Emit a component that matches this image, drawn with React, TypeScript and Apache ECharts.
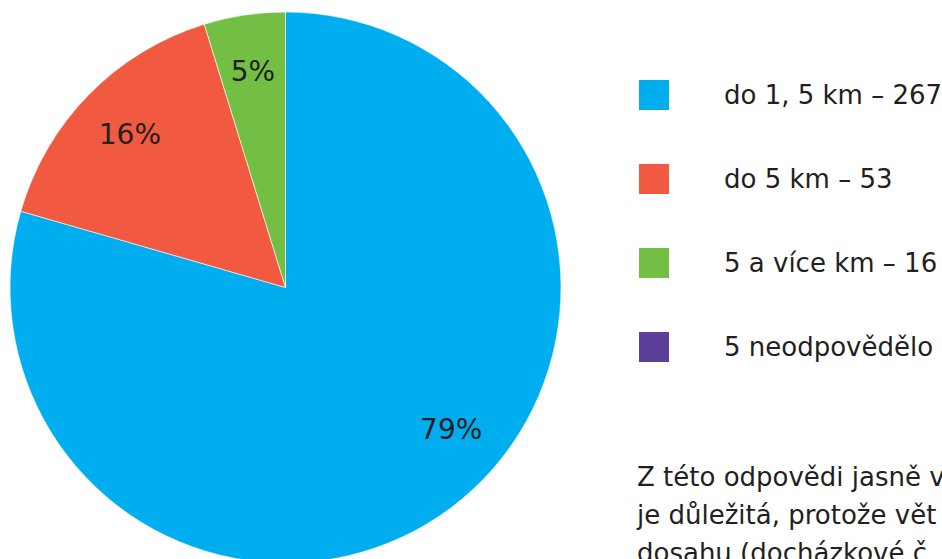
import { useEffect, useRef } from "react";
import * as echarts from "echarts";

const categories = ["do 1, 5 km – 267", "do 5 km – 53", "5 a více km – 16", "5 neodpovědělo"];
const values = [267, 53, 16, 0];
const colors = ["#00aeef", "#f15a40", "#72bf44", "#5b3f98"];
const paragraphLines = ["Z této odpovědi jasně v", "je důležitá, protože vět", "dosahu (docházkové č"];

const FONT = "DejaVu Sans";
const TEXT_COLOR = "#231f20";
const CX = 285.5;
const CY = 287.5;
const R = 275.5;
const LABEL_R = 218;
const labelAngleShift = [-12.5, 0, 0, 0];

export default function App() {
  const ref = useRef<HTMLDivElement>(null);

  useEffect(() => {
    document.body.style.margin = "0";
    if (!ref.current) return;
    const chart = echarts.init(ref.current, undefined, { renderer: "svg" });
    const total = values.reduce((a, b) => a + b, 0);

    const labelLayout = (params: any) => {
      const i = params.dataIndex;
      let cum = 0;
      for (let k = 0; k < i; k++) cum += values[k];
      const midDeg = ((cum + values[i] / 2) / total) * 360 + labelAngleShift[i];
      const rad = (midDeg * Math.PI) / 180;
      return {
        x: CX + LABEL_R * Math.sin(rad),
        y: CY - LABEL_R * Math.cos(rad),
        align: "center",
        verticalAlign: "middle",
      };
    };

    chart.setOption({
      animation: false,
      backgroundColor: "#ffffff",
      color: colors,
      legend: {
        orient: "vertical",
        left: 632,
        top: 73,
        icon: "rect",
        itemWidth: 32,
        itemHeight: 32,
        itemGap: 50,
        selectedMode: false,
        data: categories,
        textStyle: {
          fontFamily: FONT,
          fontSize: 26,
          color: TEXT_COLOR,
          padding: [0, 0, 0, 49],
        },
      },
      graphic: [
        {
          type: "text",
          left: 637,
          top: 458,
          style: {
            text: paragraphLines.join("\n"),
            fontFamily: FONT,
            fontSize: 26,
            lineHeight: 38,
            fill: TEXT_COLOR,
          },
        },
      ],
      series: [
        {
          type: "pie",
          center: [CX, CY],
          radius: [0, R],
          startAngle: 90,
          clockwise: true,
          silent: true,
          itemStyle: { borderColor: "#ffffff", borderWidth: 0.6 },
          label: {
            show: true,
            position: "inside",
            fontFamily: FONT,
            fontSize: 28,
            color: TEXT_COLOR,
            formatter: (p: any) => Math.round(p.percent) + "%",
          },
          labelLine: { show: false },
          labelLayout,
          data: categories.map((name, i) => ({
            name,
            value: values[i],
            label: values[i] === 0 ? { show: false } : undefined,
          })),
        },
      ],
    });

    return () => chart.dispose();
  }, []);

  return <div ref={ref} style={{ width: 942, height: 559 }} />;
}
